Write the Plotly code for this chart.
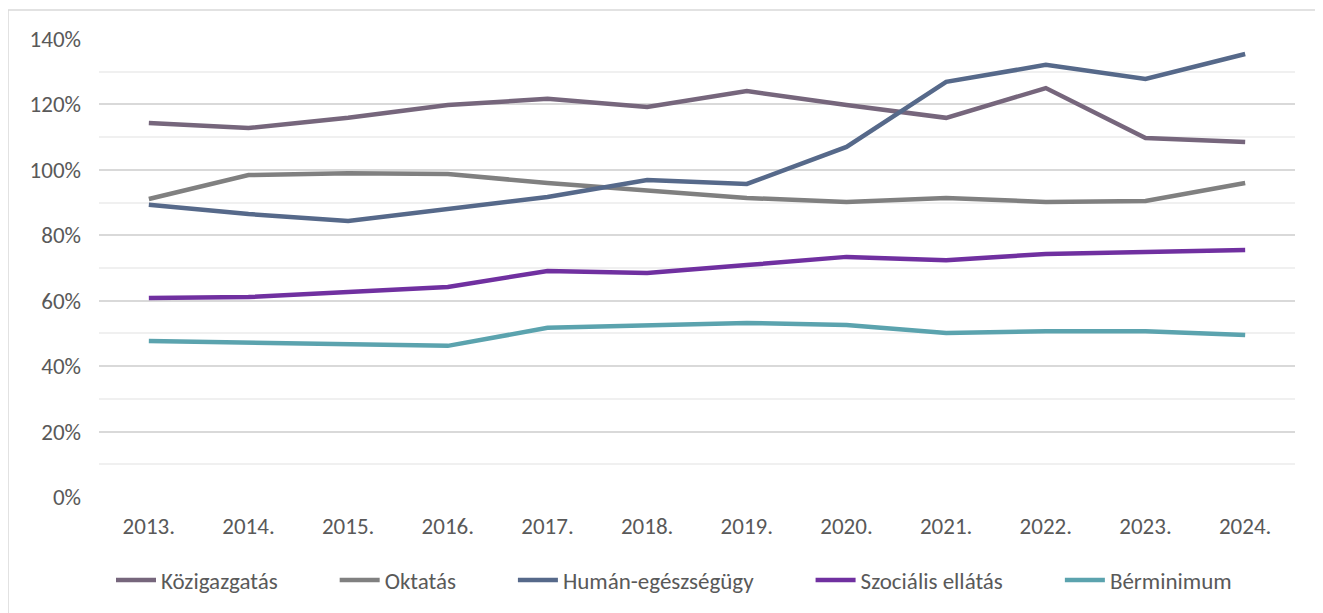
import plotly.graph_objects as go

years = ["2013.", "2014.", "2015.", "2016.", "2017.", "2018.", "2019.", "2020.", "2021.", "2022.", "2023.", "2024."]

kozigazgatas = [114.3, 112.8, 115.9, 119.8, 121.7, 119.2, 124.1, 119.8, 115.9, 125.0, 109.7, 108.5]
oktatas = [91.1, 98.4, 99.0, 98.7, 96.0, 93.8, 91.4, 90.2, 91.4, 90.2, 90.5, 96.0]
human_eu = [89.3, 86.5, 84.4, 88.0, 91.7, 96.9, 95.7, 107.0, 126.9, 132.1, 127.8, 135.4]
szocialis = [60.8, 61.1, 62.7, 64.2, 69.1, 68.5, 70.9, 73.4, 72.4, 74.3, 74.9, 75.5]
berminimum = [47.7, 47.1, 46.5, 46.2, 51.7, 52.6, 53.2, 52.6, 50.1, 50.7, 50.7, 49.5]

series = [
    ("Közigazgatás", kozigazgatas, "#76667C"),
    ("Oktatás", oktatas, "#808080"),
    ("Humán-egészségügy", human_eu, "#56698A"),
    ("Szociális ellátás", szocialis, "#7030A0"),
    ("Bérminimum", berminimum, "#5BA3AE"),
]

fig = go.Figure()
for name, vals, color in series:
    # trailing non-breaking spaces widen the gap between legend entries
    fig.add_trace(go.Scatter(x=years, y=vals, name=name + "\u00a0" * 10, mode="lines",
                             line=dict(color=color, width=4.5)))

font = "Calibri, Carlito, Lato, sans-serif"

# page has an 8px body margin, so the figure is 8px smaller than the window
W, H = 1315, 605
L, R, T, B = 91, 28, 31, 116
pw, ph = W - L - R, H - T - B

fig.update_layout(
    width=W, height=H,
    margin=dict(l=L, r=R, t=T, b=B),
    paper_bgcolor="white", plot_bgcolor="white",
    font=dict(family=font, size=23, color="#595959"),
    showlegend=True,
    legend=dict(orientation="h", x=12 / pw, xanchor="left", y=-83 / ph, yanchor="middle",
                font=dict(size=23, color="#595959"), itemwidth=40,
                tracegroupgap=0),
    xaxis=dict(showgrid=False, showline=False, ticks="", range=[-0.5, 11.5],
               ticklabelstandoff=13),
    yaxis=dict(range=[0, 140], dtick=20, ticksuffix="%", showline=False, zeroline=False,
               gridcolor="#D9D9D9", gridwidth=1.5,
               ticklabelstandoff=17,
               minor=dict(dtick=10, showgrid=True, gridcolor="#F0F0F0", gridwidth=1.5)),
)

# chart frame (left and top edges)
top = (ph + T - 2) / ph
fig.add_shape(type="line", xref="paper", yref="paper",
              x0=-L / pw, x1=-L / pw, y0=-1, y1=top,
              line=dict(color="#D9D9D9", width=1.5))
fig.add_shape(type="line", xref="paper", yref="paper",
              x0=-L / pw, x1=1.1, y0=top, y1=top,
              line=dict(color="#D9D9D9", width=1.5))

fig.write_html("out.html")
